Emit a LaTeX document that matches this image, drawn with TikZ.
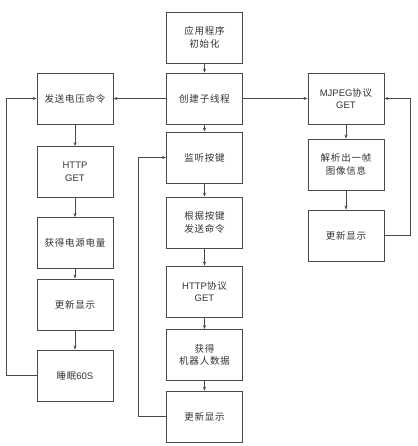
\documentclass[tikz,border=0pt]{standalone}
\usepackage{fontspec}
\setmainfont{Liberation Sans}
\newfontfamily\cjk[LetterSpace=8]{Noto Sans CJK SC}
\usetikzlibrary{arrows.meta}
\definecolor{ln}{HTML}{4A4A4A}
\definecolor{tx}{HTML}{333333}
\begin{document}
\begin{tikzpicture}[x=1pt,y=-1pt,
  box/.style={draw=ln,line width=0.9pt,minimum width=76pt,minimum height=51pt,inner sep=1pt,align=center,text=tx,font=\fontsize{9.5}{12.5}\selectfont\cjk},
  arr/.style={draw=ln,line width=0.8pt,-{Stealth[length=4pt,width=3.2pt]}},
  lin/.style={draw=ln,line width=0.8pt}]
\useasboundingbox (0,0) rectangle (417,446);
\fill[white] (0,0) rectangle (417,446);
% middle column
\node[box] (init) at (204.5,37.5) {应用程序\\初始化};
\node[box] (create) at (204.5,98.5) {创建子线程};
\node[box] (listen) at (204.5,157.5) {监听按键};
\node[box] (send) at (204.5,222.5) {根据按键\\发送命令};
\node[box] (http2) at (204.5,291.5) {{\rmfamily HTTP}协议\\{\rmfamily GET}};
\node[box] (robot) at (204.5,355) {获得\\机器人数据};
\node[box] (upd2) at (204.5,416.5) {更新显示};
% left column
\node[box] (volt) at (75,98.5) {发送电压命令};
\node[box] (http1) at (75,172) {{\rmfamily HTTP}\\{\rmfamily GET}};
\node[box] (power) at (75,243) {获得电源电量};
\node[box] (upd1) at (75,304.5) {更新显示};
\node[box] (sleep) at (75,375.5) {睡眠{\rmfamily 60S}};
% right column
\node[box] (mjpeg) at (346,98.5) {{\rmfamily MJPEG}协议\\{\rmfamily GET}};
\node[box] (parse) at (346,164.5) {解析出一帧\\图像信息};
\node[box] (upd3) at (346,235.5) {更新显示};
% connectors
\draw[arr] (init) -- (create);
\draw[arr] (create) -- (listen);
\draw[arr] (listen) -- (send);
\draw[arr] (send) -- (http2);
\draw[arr] (http2) -- (robot);
\draw[arr] (robot) -- (upd2);
\draw[arr] (create) -- (volt);
\draw[arr] (create) -- (mjpeg);
\draw[arr] (volt) -- (http1);
\draw[arr] (http1) -- (power);
\draw[arr] (power) -- (upd1);
\draw[arr] (upd1) -- (sleep);
\draw[arr] (mjpeg) -- (parse);
\draw[arr] (parse) -- (upd3);
\coordinate (l1) at (6,375.5);
\coordinate (l2) at (6,98.5);
\draw[arr] (sleep.west) -- (l1) -- (l2) -- (volt.west);
\coordinate (m1) at (138,416.5);
\coordinate (m2) at (138,157.5);
\draw[arr] (upd2.west) -- (m1) -- (m2) -- (listen.west);
\coordinate (r1) at (410,235.5);
\coordinate (r2) at (410,98.5);
\draw[arr] (upd3.east) -- (r1) -- (r2) -- (mjpeg.east);
\end{tikzpicture}
\end{document}
